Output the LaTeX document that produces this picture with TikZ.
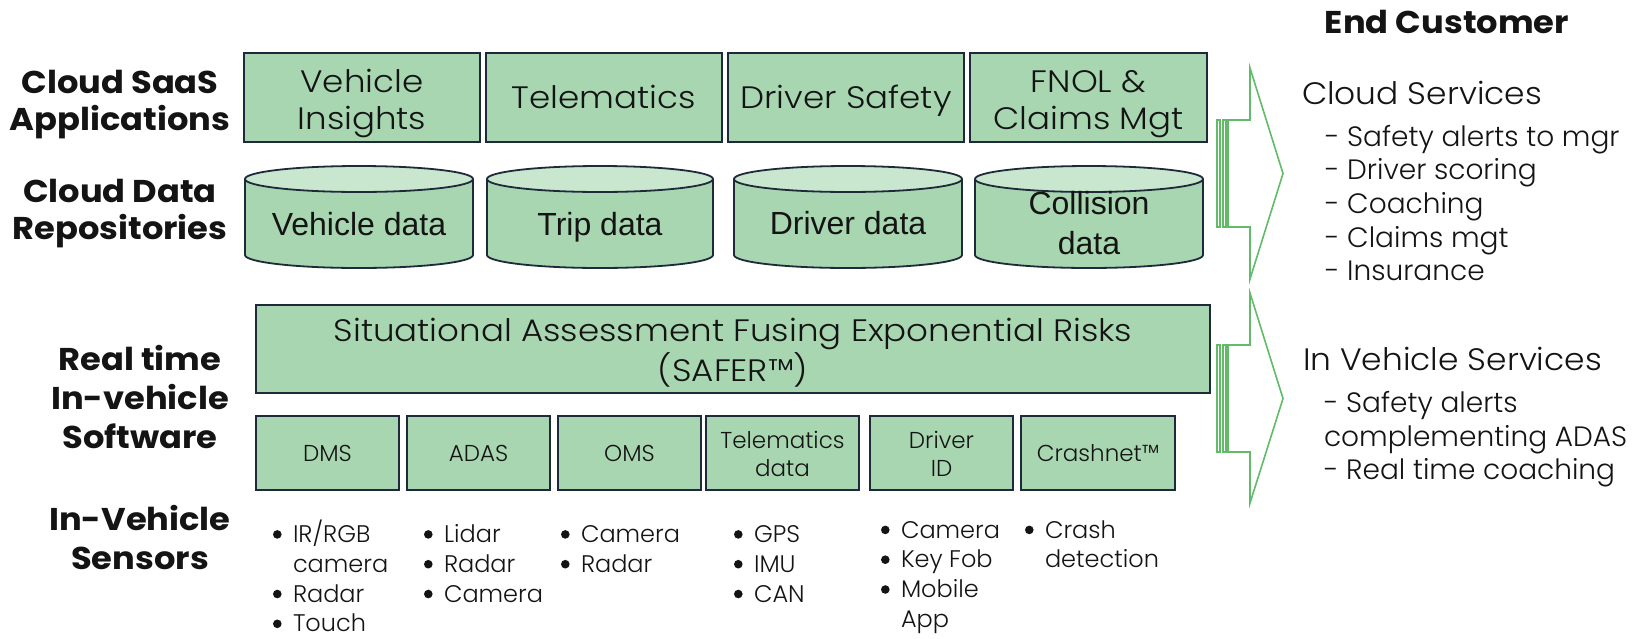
\documentclass[tikz,border=0pt]{standalone}
\usepackage{fontspec}
\setmainfont{Poppins}
\newfontfamily\lightfont{Poppins Light}
\newfontfamily\widelight{Poppins Light}[FakeStretch=1.1]
\newfontfamily\headlight{Poppins Light}[FakeStretch=1.06]
\newfontfamily\boldfont{Poppins Bold}[FakeStretch=1.07]
\newfontfamily\arialfont{Liberation Sans}
\definecolor{boxgreen}{RGB}{168,214,177}
\definecolor{topgreen}{RGB}{201,231,207}
\definecolor{edge}{RGB}{30,42,58}
\definecolor{arrowgreen}{RGB}{98,187,104}
\definecolor{ink}{RGB}{20,20,20}
\newcommand\stk[2][c]{\begin{tabular}[t]{@{}#1@{}}#2\end{tabular}}
\newcommand\bul{\makebox[20pt][l]{\raisebox{3.8pt}{\tikz\fill[ink] (0,0) circle (4.3pt);}}}
\newcommand\cnt{\hspace*{20pt}}
\newcommand\cyl[2]{%
  \pgfmathsetmacro\cylcx{(#1+#2)/2}%
  \pgfmathsetmacro\cylrx{(#2-#1)/2}%
  \fill[boxgreen] (#1,179) -- (#1,255) arc[start angle=180,end angle=0,x radius=\cylrx,y radius=13] -- (#2,179) -- cycle;
  \draw[draw=edge,line width=1.8pt] (#1,179) -- (#1,255) arc[start angle=180,end angle=0,x radius=\cylrx,y radius=13] -- (#2,179);
  \draw[draw=edge,line width=1.8pt,fill=topgreen] (\cylcx,179) ellipse[x radius=\cylrx,y radius=13];
}
\begin{document}
\begin{tikzpicture}[x=1pt,y=-1pt,
  every node/.style={inner sep=0pt,outer sep=0pt,text=ink},
  gbox/.style={draw=edge,line width=1.8pt,fill=boxgreen},
  lbl/.style={font=\boldfont\fontsize{31.5}{37}\selectfont,anchor=base},
  apptxt/.style={font=\widelight\fontsize{31}{37.5}\selectfont,anchor=base},
  dbtxt/.style={font=\arialfont\fontsize{32}{39.5}\selectfont,anchor=base},
  swtxt/.style={font=\lightfont\fontsize{23}{28.5}\selectfont,anchor=base},
  senstxt/.style={font=\lightfont\fontsize{24}{29.8}\selectfont,anchor=base west},
  svchead/.style={font=\headlight\fontsize{31}{37}\selectfont,anchor=base west},
  svctxt/.style={font=\lightfont\fontsize{28}{33.7}\selectfont,anchor=base west},
  arrowline/.style={draw=arrowgreen,line width=1.6pt,line join=miter}
]
\fill[white] (0,0) rectangle (1652,638);
\useasboundingbox (0,0) rectangle (1652,638);

% left labels
\node[lbl] (lsaas) at (120,93) {\stk{Cloud SaaS\\Applications}};
\node[lbl] (ldata) at (120,202) {\stk{Cloud Data\\Repositories}};
\node[lbl,font=\boldfont\fontsize{31.5}{39}\selectfont] (lsw) at (140,370) {\stk{Real time\\In-vehicle\\Software}};
\node[lbl,font=\boldfont\fontsize{31.5}{39.5}\selectfont] (lsens) at (140,530) {\stk{In-Vehicle\\Sensors}};
\node[lbl] (endc) at (1447,33) {End Customer};

% row 1: SaaS applications
\node[gbox,minimum width=236,minimum height=89] (vi) at (362,97.5) {};
\node[gbox,minimum width=236,minimum height=89] (tel) at (604,97.5) {};
\node[gbox,minimum width=236,minimum height=89] (ds) at (846,97.5) {};
\node[gbox,minimum width=237,minimum height=89] (fnol) at (1088.5,97.5) {};
\node[apptxt] (vit) at (vi.center |- 0,92) {\stk{Vehicle\\Insights}};
\node[apptxt] (telt) at (tel.center |- 0,108.5) {Telematics};
\node[apptxt] (dst) at (ds.center |- 0,108.5) {Driver Safety};
\node[apptxt] (fnolt) at (fnol.center |- 0,92) {\stk{FNOL \&\\Claims Mgt}};

% row 2: data repositories
\cyl{245}{473}
\cyl{487}{713}
\cyl{734}{962}
\cyl{975}{1203}
\node[dbtxt] (vd) at (359,235) {Vehicle data};
\node[dbtxt] (td) at (600,235) {Trip data};
\node[dbtxt] (dd) at (848,234) {Driver data};
\node[dbtxt] (cd) at (1089,214.5) {\stk{Collision\\data}};

% SAFER
\node[gbox,minimum width=954,minimum height=88] (safer) at (733,349) {};
\node[apptxt,font=\widelight\fontsize{31}{39}\selectfont] (safert) at (safer.center |- 0,341) {\stk{Situational Assessment Fusing Exponential Risks\\(SAFER™)}};

% software modules
\node[gbox,minimum width=143,minimum height=74] (dms) at (327.5,453) {};
\node[gbox,minimum width=143,minimum height=74] (adas) at (478.5,453) {};
\node[gbox,minimum width=143,minimum height=74] (oms) at (629.5,453) {};
\node[gbox,minimum width=153,minimum height=74] (tdat) at (782.5,453) {};
\node[gbox,minimum width=143,minimum height=74] (did) at (941.5,453) {};
\node[gbox,minimum width=154,minimum height=74] (crash) at (1098,453) {};
\node[swtxt] at (dms.center |- 0,461.5) {DMS};
\node[swtxt] at (adas.center |- 0,461.5) {ADAS};
\node[swtxt] at (oms.center |- 0,461.5) {OMS};
\node[swtxt] at (tdat.center |- 0,448) {\stk{Telematics\\data}};
\node[swtxt] at (did.center |- 0,448) {\stk{Driver\\ID}};
\node[swtxt] at (crash.center |- 0,461.5) {Crashnet™};

% sensors
\node[senstxt] (s1) at (273,542.5) {\stk[l]{\bul IR/RGB\\\cnt camera\\\bul Radar\\\bul Touch}};
\node[senstxt] (s2) at (424,542.5) {\stk[l]{\bul Lidar\\\bul Radar\\\bul Camera}};
\node[senstxt] (s3) at (561,542.5) {\stk[l]{\bul Camera\\\bul Radar}};
\node[senstxt] (s4) at (734,542.5) {\stk[l]{\bul GPS\\\bul IMU\\\bul CAN}};
\node[senstxt] (s5) at (881,538) {\stk[l]{\bul Camera\\\bul Key Fob\\\bul Mobile\\\cnt App}};
\node[senstxt] (s6) at (1025,538) {\stk[l]{\bul Crash\\\cnt detection}};

% arrows
\draw[arrowline] (1228,120) -- (1250,120) -- (1250,68) -- (1283,173.5) -- (1250,279) -- (1250,227) -- (1228,227) -- cycle;
\draw[arrowline] (1217,120) rectangle (1220,227);
\draw[arrowline] (1223,120) rectangle (1226,227);
\draw[arrowline] (1228,345) -- (1250,345) -- (1250,293) -- (1283,398.5) -- (1250,503) -- (1250,452) -- (1228,452) -- cycle;
\draw[arrowline] (1217,345) rectangle (1220,452);
\draw[arrowline] (1223,345) rectangle (1226,452);

% services
\node[svchead] (cs) at (1302,104) {Cloud Services};
\node[svctxt] (csl) at (1325,146) {\stk[l]{- Safety alerts to mgr\\- Driver scoring\\- Coaching\\- Claims mgt\\- Insurance}};
\node[svchead] (ivs) at (1303,370.5) {In Vehicle Services};
\node[svctxt] (ivsl) at (1324,412.5) {\stk[l]{- Safety alerts\\complementing ADAS\\- Real time coaching}};
\end{tikzpicture}
\end{document}
